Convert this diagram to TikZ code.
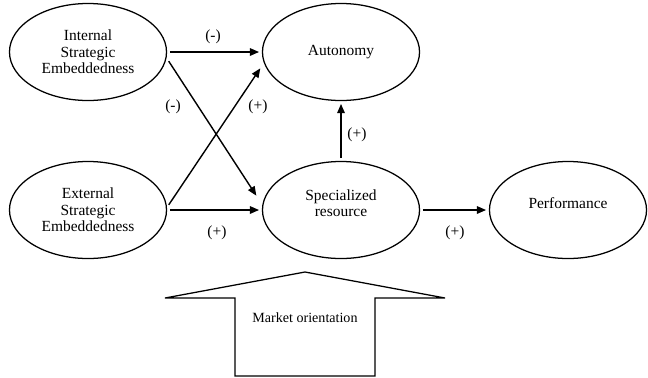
\documentclass[tikz,border=0pt]{standalone}
\usepackage{fontspec}
\setmainfont{Liberation Serif}
\usetikzlibrary{shapes.geometric,arrows.meta}
\tikzset{
  construct/.style={ellipse, draw, line width=0.9pt, minimum width=3.925cm, minimum height=2.425cm,
    inner sep=0pt, align=center, font=\fontsize{11}{11.7}\selectfont},
  raised/.style={text depth=10pt},
  link/.style={line width=1pt, -{Triangle[length=2.3mm,width=1.9mm]}, shorten <=0.7mm, shorten >=0.7mm},
  sign/.style={font=\fontsize{11}{12}\selectfont}
}
\begin{document}
\begin{tikzpicture}[x=0.025cm, y=-0.025cm]
  \useasboundingbox (0,0) rectangle (648,377);
  % constructs
  \node[construct] (int) at (88,52) {Internal\\Strategic\\Embeddedness};
  \node[construct] (ext) at (88,210) {External\\Strategic\\Embeddedness};
  \node[construct] (aut) at (341,52) {Autonomy};
  \node[construct, raised] (spec) at (341,210) {Specialized\\resource};
  \node[construct, raised] (perf) at (568,210) {Performance};
  % paths
  \draw[link] (int.east) -- (aut.west);
  \draw[link] ([yshift=-1.7mm]int.east) -- ([xshift=-1mm,yshift=3mm]spec.west);
  \draw[link] ([yshift=0.7mm]ext.east) -- ([yshift=-3.5mm]aut.west);
  \draw[link] (ext.east) -- (spec.west);
  \draw[link] (spec.north) -- (aut.south);
  \draw[link] (spec.east) -- (perf.west);
  % signs
  \node[sign] (s1) at (213,37) {(-)};
  \node[sign] (s2) at (173,107) {(-)};
  \node[sign] (s3) at (258,107) {(+)};
  \node[sign] (s4) at (217,233) {(+)};
  \node[sign] (s5) at (357,135) {(+)};
  \node[sign] (s6) at (455,233) {(+)};
  % moderator
  \draw[line width=0.9pt] (165,298) -- (305,272) -- (445,298) -- (375,298) -- (375,376)
    -- (235,376) -- (235,298) -- cycle;
  \node[font=\fontsize{10}{12}\selectfont] (mo) at (305,318) {Market orientation};
\end{tikzpicture}
\end{document}
